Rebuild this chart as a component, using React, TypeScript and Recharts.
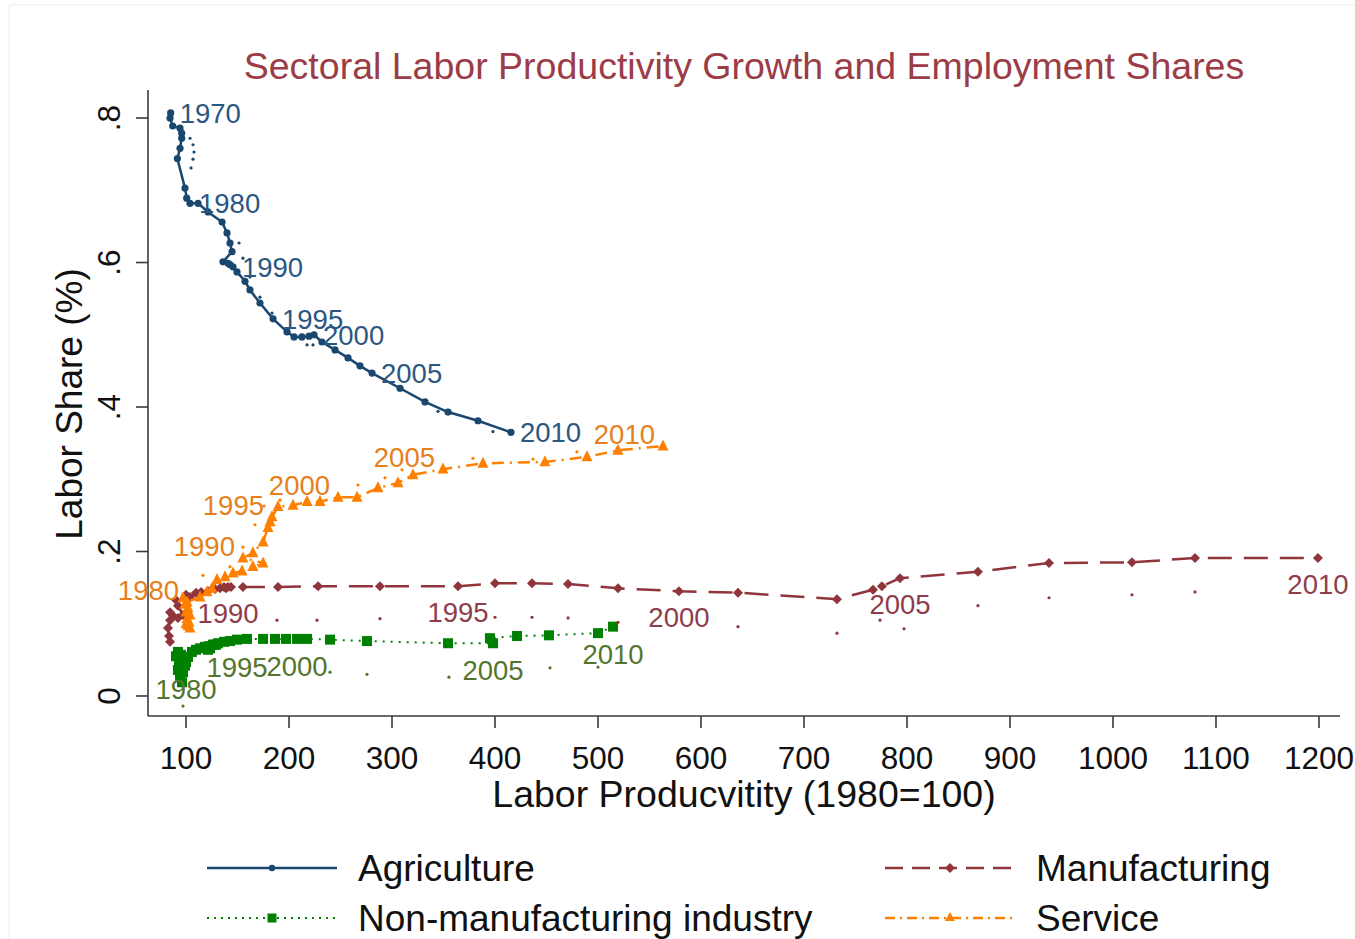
import React from 'react';
import { ScatterChart, Scatter, XAxis, YAxis, Customized } from 'recharts';

const FONT = '"Liberation Sans", Arial, Helvetica, sans-serif';

// ---------------- data ----------------
const years = [
  1970, 1971, 1972, 1973, 1974, 1975, 1976, 1977, 1978, 1979,
  1980, 1981, 1982, 1983, 1984, 1985, 1986, 1987, 1988, 1989,
  1990, 1991, 1992, 1993, 1994, 1995, 1996, 1997, 1998, 1999,
  2000, 2001, 2002, 2003, 2004, 2005, 2006, 2007, 2008, 2009,
  2010,
];

const agProductivity = [
  85.1, 84.5, 87.1, 94.2, 95.8, 95.8, 94.2, 91.6, 99.0, 100.7,
  103.9, 111.7, 121.4, 135.0, 139.8, 142.7, 144.7, 135.9, 140.8, 142.7,
  145.6, 149.5, 157.3, 162.1, 171.8, 184.5, 198.1, 204.9, 212.6, 219.4,
  224.3, 232.0, 244.7, 257.3, 268.9, 280.6, 307.8, 332.0, 354.4, 383.5,
  415.5,
];
const agShare = [
  0.807, 0.8, 0.789, 0.786, 0.779, 0.772, 0.758, 0.744, 0.703, 0.689,
  0.682, 0.682, 0.67, 0.656, 0.641, 0.627, 0.615, 0.601, 0.599, 0.597,
  0.594, 0.587, 0.574, 0.562, 0.544, 0.522, 0.504, 0.497, 0.497, 0.498,
  0.5, 0.49, 0.479, 0.468, 0.457, 0.447, 0.426, 0.407, 0.393, 0.381,
  0.365,
];

const mfProductivity = [
  84.5, 83.5, 82.5, 84.5, 87.4, 84.5, 92.2, 97.1, 92.2, 90.3,
  100.0, 103.9, 109.7, 114.6, 121.4, 128.2, 133.0, 136.9, 143.7, 138.8,
  140.8, 155.3, 189.3, 228.2, 288.3, 364.1, 400.0, 435.9, 470.9, 519.4,
  578.6, 635.9, 732.0, 767.0, 775.7, 793.2, 868.9, 937.9, 1018.4, 1079.6,
  1199.0,
];
const mfShare = [
  0.075, 0.083, 0.094, 0.105, 0.111, 0.116, 0.108, 0.112, 0.125, 0.133,
  0.14, 0.137, 0.143, 0.144, 0.145, 0.148, 0.149, 0.151, 0.151, 0.149,
  0.151, 0.151, 0.151, 0.152, 0.152, 0.152, 0.156, 0.156, 0.155, 0.149,
  0.145, 0.143, 0.134, 0.147, 0.152, 0.163, 0.172, 0.184, 0.185, 0.191,
  0.191,
];

const nmProductivity = [
  96.1, 94.2, 92.2, 97.1, 93.2, 99.0, 94.2, 90.3, 92.2, 95.1,
  100.0, 101.9, 105.8, 109.7, 113.6, 118.4, 122.3, 126.2, 129.1, 123.3,
  121.4, 127.2, 131.1, 136.9, 142.7, 149.5, 159.2, 174.8, 186.4, 197.1,
  207.8, 217.5, 239.8, 275.7, 354.4, 398.1, 395.1, 421.4, 452.4, 500.0,
  514.6,
];
const nmShare = [
  0.019, 0.028, 0.036, 0.033, 0.044, 0.042, 0.05, 0.055, 0.061, 0.057,
  0.047, 0.054, 0.061, 0.064, 0.066, 0.068, 0.069, 0.071, 0.071, 0.066,
  0.064, 0.071, 0.073, 0.075, 0.076, 0.078, 0.079, 0.079, 0.079, 0.079,
  0.079, 0.079, 0.078, 0.076, 0.073, 0.073, 0.08, 0.083, 0.084, 0.087,
  0.096,
];

const svProductivity = [
  103.9, 100.0, 101.9, 102.9, 101.0, 103.9, 100.0, 101.9, 99.0, 97.1,
  101.0, 113.6, 120.4, 125.2, 130.1, 137.9, 145.6, 154.4, 165.0, 174.8,
  155.3, 165.0, 174.8, 179.6, 181.6, 183.5, 189.3, 203.9, 217.5, 230.1,
  247.6, 266.0, 286.4, 305.8, 320.4, 349.5, 388.3, 448.5, 489.3, 519.4,
  563.1,
];
const svShare = [
  0.094, 0.1, 0.097, 0.102, 0.107, 0.112, 0.116, 0.122, 0.127, 0.136,
  0.13, 0.137, 0.144, 0.149, 0.161, 0.165, 0.17, 0.173, 0.179, 0.184,
  0.191, 0.198, 0.213, 0.233, 0.241, 0.248, 0.262, 0.264, 0.269, 0.269,
  0.275, 0.275, 0.288, 0.295, 0.306, 0.314, 0.322, 0.324, 0.331, 0.34,
  0.346,
];

// labelled years
const agLabelYears = [1970, 1980, 1990, 1995, 2000, 2005, 2010];
const mfLabelYears = [1990, 1995, 2000, 2005, 2010];
const nmLabelYears = [1980, 1995, 2000, 2005, 2010];
const svLabelYears = [1980, 1990, 1995, 2000, 2005, 2010];

// secondary small-dot observations
const agDotX = [103.9, 106.8, 107.8, 106.8, 104.9, 151.5, 155.3, 162.1, 171.8, 183.5, 217.5, 223.3, 344.7, 398.0];
const agDotY = [0.772, 0.763, 0.753, 0.743, 0.731, 0.627, 0.606, 0.58, 0.552, 0.53, 0.486, 0.486, 0.394, 0.366];
const mfDotX = [188.3, 227.2, 288.3, 400.0, 435.9, 470.9, 519.4, 635.9, 732.0, 773.8, 797.1, 868.9, 937.9, 1018.4, 1079.6];
const mfDotY = [0.105, 0.105, 0.107, 0.109, 0.109, 0.108, 0.102, 0.096, 0.087, 0.105, 0.093, 0.125, 0.136, 0.14, 0.144];
const nmDotX = [97.1, 239.8, 275.7, 355.3, 453.4, 500.0];
const nmDotY = [-0.014, 0.033, 0.03, 0.026, 0.039, 0.04];
const svDotX = [116.5, 142.7, 155.3, 167.0, 175.7, 191.3, 267.0, 293.2, 309.7, 378.6, 436.9, 479.6, 518.4];
const svDotY = [0.167, 0.179, 0.206, 0.237, 0.263, 0.271, 0.292, 0.302, 0.313, 0.329, 0.328, 0.338, 0.342];

const xTicks = [100, 200, 300, 400, 500, 600, 700, 800, 900, 1000, 1100, 1200];
const yTicks = [0, 0.2, 0.4, 0.6, 0.8];
const yTickLabels = ['0', '.2', '.4', '.6', '.8'];

const seriesNames = ['Agriculture', 'Manufacturing', 'Non-manufacturing industry', 'Service'];

// ---------------- build tables ----------------
const build = (xs: number[], ys: number[]) => xs.map((x, i) => ({ x, y: ys[i], year: years[i] }));
const buildDots = (xs: number[], ys: number[]) => xs.map((x, i) => ({ x, y: ys[i] }));
const pick = (rows: any[], yrs: number[]) => rows.filter((r) => yrs.includes(r.year));

const agData = build(agProductivity, agShare);
const mfData = build(mfProductivity, mfShare);
const nmData = build(nmProductivity, nmShare);
const svData = build(svProductivity, svShare);

// ---------------- styles ----------------
const AG = '#1a476f';
const MF = '#90353b';
const NM = '#008000';
const SV = '#ff8000';
const AG_LAB = '#2b5783';
const MF_LAB = '#8e3d4c';
const NM_LAB = '#55752f';
const SV_LAB = '#e5801c';
const TITLE = '#9b3c47';
const AXIS = '#3a3a3a';

const circleShape = (color: string, r: number) => (p: any) =>
  p.cx == null ? <g /> : <circle cx={p.cx} cy={p.cy} r={r} fill={color} />;
const diamondShape = (color: string, h: number) => (p: any) =>
  p.cx == null ? <g /> : (
    <polygon
      points={`${p.cx},${p.cy - h} ${p.cx + h},${p.cy} ${p.cx},${p.cy + h} ${p.cx - h},${p.cy}`}
      fill={color}
    />
  );
const squareShape = (color: string, s: number) => (p: any) =>
  p.cx == null ? <g /> : <rect x={p.cx - s / 2} y={p.cy - s / 2} width={s} height={s} fill={color} />;
const triangleShape = (color: string, s: number) => (p: any) =>
  p.cx == null ? <g /> : (
    <polygon
      points={`${p.cx},${p.cy - s * 0.6} ${p.cx + s / 2},${p.cy + s * 0.4} ${p.cx - s / 2},${p.cy + s * 0.4}`}
      fill={color}
    />
  );

const labelShape = (color: string, dx: number, dy: number, anchor: string) => (p: any) =>
  p.cx == null ? <g /> : (
    <text
      x={p.cx + dx}
      y={p.cy + dy}
      textAnchor={anchor as any}
      fontSize={27.5}
      fontFamily={FONT}
      fill={color}
    >
      {p.payload.year}
    </text>
  );

const XTick = (props: any) => {
  const { x, payload } = props;
  return (
    <text x={x} y={769} textAnchor="middle" fontSize={31.5} fontFamily={FONT} fill="#111">
      {payload.value}
    </text>
  );
};

const YTick = (props: any) => {
  const { y, payload } = props;
  const i = yTicks.findIndex((t) => Math.abs(t - payload.value) < 1e-6);
  return (
    <text
      transform={`translate(120,${y}) rotate(-90)`}
      textAnchor="middle"
      fontSize={31.5}
      fontFamily={FONT}
      fill="#111"
    >
      {i >= 0 ? yTickLabels[i] : payload.value}
    </text>
  );
};

const legendItems = [
  { name: seriesNames[0], x: 207, y: 868, color: AG, dash: undefined as string | undefined, w: 2.5, marker: 'circle' },
  { name: seriesNames[1], x: 885, y: 868, color: MF, dash: '18 9', w: 2.5, marker: 'diamond' },
  { name: seriesNames[2], x: 207, y: 918, color: NM, dash: '2 5', w: 2, marker: 'square' },
  { name: seriesNames[3], x: 885, y: 918, color: SV, dash: '10 5 2 5', w: 2.5, marker: 'triangle' },
];

const Decorations = () => (
  <g fontFamily={FONT}>
    <line x1={9} y1={5} x2={1355} y2={5} stroke="#ececec" strokeWidth={1} />
    <line x1={9} y1={5} x2={9} y2={939} stroke="#ececec" strokeWidth={1} />
    <text x={744} y={79} textAnchor="middle" fontSize={37.5} fill={TITLE}>
      Sectoral Labor Productivity Growth and Employment Shares
    </text>
    <text x={744} y={807} textAnchor="middle" fontSize={37.5} fill="#111">
      Labor Producvitity (1980=100)
    </text>
    <text transform="translate(82,404) rotate(-90)" textAnchor="middle" fontSize={37} fill="#111">
      Labor Share (%)
    </text>
    {legendItems.map((it) => {
      const mx = it.x + 65;
      const my = it.y;
      let marker: React.ReactNode = null;
      if (it.marker === 'circle') marker = <circle cx={mx} cy={my} r={3.2} fill={it.color} />;
      if (it.marker === 'diamond')
        marker = <polygon points={`${mx},${my - 5} ${mx + 5},${my} ${mx},${my + 5} ${mx - 5},${my}`} fill={it.color} />;
      if (it.marker === 'square') marker = <rect x={mx - 4.5} y={my - 4.5} width={9} height={9} fill={it.color} />;
      if (it.marker === 'triangle')
        marker = <polygon points={`${mx},${my - 6} ${mx + 5},${my + 3} ${mx - 5},${my + 3}`} fill={it.color} />;
      return (
        <g key={it.name}>
          <line
            x1={it.x}
            x2={it.x + 130}
            y1={it.y}
            y2={it.y}
            stroke={it.color}
            strokeWidth={it.w}
            strokeDasharray={it.dash}
          />
          {marker}
          <text x={it.x + 151} y={it.y + 13} fontSize={37} fill="#111">
            {it.name}
          </text>
        </g>
      );
    })}
  </g>
);

export default function App() {
  return (
    <div style={{ position: 'absolute', left: 0, top: 0, width: 1355, height: 939, background: '#fff' }}>
      <ScatterChart width={1355} height={939} margin={{ top: 90, right: 15, bottom: 0, left: 0 }}>
        <XAxis
          type="number"
          dataKey="x"
          domain={[63.1, 1220.4]}
          ticks={xTicks}
          interval={0}
          height={223}
          tickSize={12}
          tick={<XTick />}
          axisLine={{ stroke: AXIS, strokeWidth: 1.6 }}
          tickLine={{ stroke: AXIS, strokeWidth: 1.6 }}
        />
        <YAxis
          type="number"
          dataKey="y"
          domain={[-0.0277, 0.8388]}
          ticks={yTicks}
          interval={0}
          width={148}
          tickSize={12}
          tick={<YTick />}
          axisLine={{ stroke: AXIS, strokeWidth: 1.6 }}
          tickLine={{ stroke: AXIS, strokeWidth: 1.6 }}
        />

        <Scatter
          name={seriesNames[0]}
          data={agData}
          fill={AG}
          line={{ stroke: AG, strokeWidth: 2.5 }}
          lineType="joint"
          shape={circleShape(AG, 3.6)}
          isAnimationActive={false}
        />
        <Scatter
          name={seriesNames[1]}
          data={mfData}
          fill={MF}
          line={{ stroke: MF, strokeWidth: 2.5, strokeDasharray: '24 12' }}
          lineType="joint"
          shape={diamondShape(MF, 5)}
          isAnimationActive={false}
        />
        <Scatter
          name={seriesNames[2]}
          data={nmData}
          fill={NM}
          line={{ stroke: NM, strokeWidth: 2, strokeDasharray: '2 6' }}
          lineType="joint"
          shape={squareShape(NM, 10)}
          isAnimationActive={false}
        />
        <Scatter
          name={seriesNames[3]}
          data={svData}
          fill={SV}
          line={{ stroke: SV, strokeWidth: 2.5, strokeDasharray: '12 6 2 6' }}
          lineType="joint"
          shape={triangleShape(SV, 11)}
          isAnimationActive={false}
        />

        <Scatter data={buildDots(agDotX, agDotY)} fill={AG} shape={circleShape(AG, 1.6)} isAnimationActive={false} />
        <Scatter data={buildDots(mfDotX, mfDotY)} fill={MF} shape={circleShape(MF, 1.6)} isAnimationActive={false} />
        <Scatter data={buildDots(nmDotX, nmDotY)} fill={NM} shape={circleShape(NM_LAB, 1.6)} isAnimationActive={false} />
        <Scatter data={buildDots(svDotX, svDotY)} fill={SV} shape={circleShape(SV, 1.6)} isAnimationActive={false} />

        <Scatter data={pick(agData, agLabelYears)} fill={AG_LAB} shape={labelShape(AG_LAB, 9, 10, 'start')} isAnimationActive={false} />
        <Scatter data={pick(mfData, mfLabelYears)} fill={MF_LAB} shape={labelShape(MF_LAB, 0, 36, 'middle')} isAnimationActive={false} />
        <Scatter data={pick(nmData, nmLabelYears)} fill={NM_LAB} shape={labelShape(NM_LAB, 0, 37, 'middle')} isAnimationActive={false} />
        <Scatter data={pick(svData, svLabelYears)} fill={SV_LAB} shape={labelShape(SV_LAB, -8, -2, 'end')} isAnimationActive={false} />

        <Customized component={Decorations} />
      </ScatterChart>
    </div>
  );
}
